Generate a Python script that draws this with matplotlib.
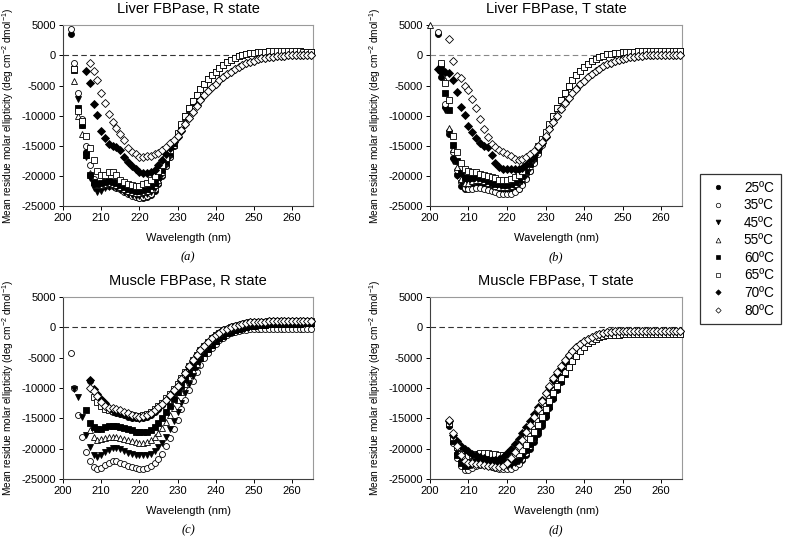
import numpy as np
import matplotlib
matplotlib.use('Agg')
import matplotlib.pyplot as plt
from matplotlib.lines import Line2D

plt.rcParams['font.family'] = ['Liberation Sans', 'DejaVu Sans']
plt.rcParams['mathtext.default'] = 'regular'
plt.rcParams['axes.unicode_minus'] = False

# wavelength (nm): heads cover 200-235, tails 236-265
wl = np.arange(200, 266)
N = None
# ellipticity, in units of 100 deg cm2 dmol-1

# --- Liver FBPase, R state ---
a25 = [N, N, 35, -23, -90, -115, -160, -198, -212, -218, -217, -215, -214, -215, -217, -220, -224, -228,
       -232, -235, -237, -237, -235, -231, -224, -214, -200, -184, -168, -150, -133, -117, -103, -90, -78, -66]
a35 = [N, N, 44, -12, -63, -105, -150, -182, -205, -215, -218, -217, -216, -217, -219, -222, -226, -230,
       -233, -235, -236, -235, -233, -229, -222, -212, -199, -184, -168, -151, -134, -118, -104, -91, -79, -67]
a45 = [N, N, N, -23, -73, -115, -168, -203, -220, -226, -224, -220, -218, -218, -220, -223, -227, -230,
       -232, -233, -233, -232, -230, -226, -220, -210, -197, -182, -166, -149, -132, -116, -102, -89, -77, -65]
a55 = [N, N, N, -42, -100, -130, -165, -195, -210, -215, -215, -213, -212, -213, -215, -218, -221, -224,
       -226, -228, -228, -227, -225, -221, -215, -206, -194, -179, -164, -148, -131, -116, -102, -89, -77, -65]
a60 = [N, N, N, -25, -88, -115, -165, -198, -210, -213, -212, -210, -209, -210, -212, -215, -218, -221,
       -223, -224, -224, -223, -221, -217, -211, -202, -190, -176, -161, -146, -130, -115, -101, -88, -76, -65]
a65 = [N, N, N, -22, -92, -108, -133, -153, -173, -192, -199, -199, -193, -194, -199, -206, -210, -213,
       -215, -216, -216, -214, -211, -206, -200, -192, -182, -170, -157, -143, -129, -114, -100, -88, -76, -65]
a70 = [N, N, N, N, N, N, -26, -46, -80, -99, -125, -137, -147, -150, -152, -157, -168, -177,
       -184, -189, -193, -195, -195, -194, -190, -181, -173, -164, -153, -143, -135, -125, -114, -103, -93, -83]
a80 = [N, N, N, N, N, N, N, -13, -26, -40, -62, -79, -97, -110, -121, -131, -141, -153,
       -160, -164, -168, -168, -167, -166, -164, -161, -157, -152, -146, -140, -134, -124, -113, -103, -93, -84]
a_tail_hi = [-56, -47, -39, -33, -27, -21, -16, -11, -7, -4, -1, 1, 2.5, 3.8, 4.8,
             5.5, 6, 6.4, 6.7, 6.9, 7, 7, 7, 7, 6.9, 6.8, 6.6, 6.4, 6.2, 6]
a_tail_lo = [-74, -66, -59, -53, -47, -41, -36, -31, -27, -23, -19, -16, -13, -10.5, -8.5,
             -6.5, -5, -3.8, -2.8, -2, -1.3, -0.7, -0.2, 0.2, 0.5, 0.8, 1, 1.2, 1.3, 1.4]

# --- Liver FBPase, T state ---
b25 = [N, N, 35, -36, -85, -130, -170, -198, -216, -222, -221, -218, -216, -216, -218, -220, -223, -225,
       -227, -228, -228, -227, -225, -221, -214, -204, -191, -177, -162, -147, -132, -116, -102, -89, -74, -62]
b35 = [N, N, 38, -14, -80, -125, -160, -190, -210, -219, -222, -221, -219, -219, -221, -223, -225, -227,
       -229, -230, -230, -229, -226, -222, -215, -205, -192, -178, -163, -148, -133, -117, -103, -90, -76, -63]
b45 = [N, N, N, -18, -90, -128, -175, -200, -212, -215, -213, -210, -208, -208, -210, -213, -216, -218,
       -220, -221, -221, -220, -217, -213, -207, -198, -186, -173, -159, -145, -131, -116, -102, -89, -74, -62]
b55 = [50, N, N, -12, -40, -120, -155, -185, -205, -212, -211, -208, -206, -206, -208, -211, -214, -216,
       -218, -218, -218, -216, -213, -209, -203, -194, -183, -170, -157, -143, -130, -115, -101, -88, -74, -62]
b60 = [N, N, N, -20, -62, -91, -148, -175, -195, -203, -204, -203, -202, -203, -205, -208, -211, -213,
       -214, -215, -215, -213, -210, -206, -200, -191, -180, -168, -155, -141, -129, -115, -101, -88, -74, -62]
b65 = [N, N, N, -13, -46, -74, -133, -160, -178, -188, -192, -193, -194, -196, -198, -200, -202, -204,
       -206, -207, -207, -205, -202, -198, -192, -184, -174, -163, -151, -138, -127, -114, -100, -87, -74, -62]
b70 = [N, N, -23, -27, -27, -29, -41, -61, -85, -98, -117, -127, -137, -145, -150, -152, -165, -178,
       -185, -188, -189, -189, -189, -188, -187, -182, -173, -165, -155, -145, -135, -122, -111, -100, -89, -79]
b80 = [N, N, N, N, N, 27, -9, -34, -37, -50, -58, -73, -87, -105, -122, -135, -147, -152,
       -156, -160, -163, -167, -171, -173, -172, -168, -164, -158, -150, -143, -133, -122, -111, -100, -89, -79]
b_tail_hi = [-50, -41, -33, -26, -20, -15, -10, -6, -3, -0.5, 1.5, 3, 4, 4.8, 5.4,
             5.8, 6.1, 6.4, 6.6, 6.8, 6.9, 7, 7, 7, 7, 6.9, 6.8, 6.7, 6.6, 6.5]
b_tail_lo = [-70, -62, -55, -48, -42, -36, -31, -26, -22, -18, -15, -12, -9.5, -7.5, -5.8,
             -4.3, -3, -2, -1.2, -0.5, 0, 0.4, 0.7, 0.9, 1, 1.1, 1.1, 1.1, 1.1, 1.1]

# --- Muscle FBPase, R state ---
c25 = [N, N, N, N, N, N, N, -89, -104, -112, -119, -127, -135, -139, -141, -143, -145, -147,
       -149, -150, -150, -149, -147, -144, -139, -134, -128, -121, -114, -106, -98, -87, -76, -65, -55, -46]
c35 = [N, N, -42, -100, -145, -180, -205, -221, -231, -234, -232, -227, -223, -221, -221, -223, -226, -229,
       -231, -232, -233, -233, -232, -229, -223, -217, -208, -196, -182, -167, -152, -135, -119, -103, -88, -74]
c45 = [N, N, N, -102, -115, -147, -178, -198, -210, -213, -211, -206, -202, -199, -199, -201, -204, -207,
       -209, -210, -211, -211, -210, -208, -204, -198, -190, -180, -168, -154, -139, -124, -109, -94, -80, -66]
c55 = [N, N, N, N, N, N, N, -170, -180, -185, -184, -182, -180, -180, -181, -182, -184, -186,
       -188, -189, -190, -190, -189, -186, -181, -174, -166, -156, -145, -133, -120, -107, -94, -82, -71, -60]
c60 = [N, N, N, N, N, N, -137, -158, -165, -168, -167, -165, -163, -162, -163, -164, -166, -168,
       -170, -172, -173, -173, -172, -169, -164, -157, -149, -139, -129, -118, -107, -96, -85, -75, -65, -56]
c65 = [N, N, N, N, N, N, N, N, -115, -123, -129, -134, -137, -138, -138, -139, -141, -143,
       -145, -146, -146, -145, -143, -140, -135, -130, -124, -117, -110, -102, -94, -84, -74, -64, -54, -45]
c70 = [N, N, N, N, N, N, N, -87, -102, -110, -118, -125, -133, -137, -139, -141, -143, -145,
       -147, -148, -149, -148, -146, -143, -138, -133, -127, -120, -113, -105, -97, -87, -76, -65, -55, -46]
c80 = [N, N, N, N, N, N, N, -100, -105, -113, -123, -130, -133, -133, -134, -136, -139, -142,
       -145, -146, -147, -146, -144, -141, -137, -132, -126, -119, -112, -104, -96, -86, -75, -64, -54, -45]
c_tail_hi = [-38, -30, -24, -18, -13, -9, -5, -2, 0.5, 2.5, 4.5, 6, 7, 8, 8.5,
             9, 9.3, 9.5, 9.7, 9.8, 9.9, 10, 10, 10, 10, 10, 10, 10, 10, 10]
c_tail_mid = [-50, -42, -35, -29, -23, -18, -14, -10, -7, -4.5, -2.5, -0.8, 0.5, 1.5, 2.5,
              3.2, 3.8, 4.3, 4.7, 5, 5.3, 5.5, 5.7, 5.9, 6, 6.1, 6.2, 6.3, 6.4, 6.5]
c_tail_lo = [-62, -51, -42, -34, -27, -21, -17, -13, -10, -8, -6, -5, -4, -3.5, -3,
             -2.8, -2.6, -2.5, -2.4, -2.3, -2.2, -2.1, -2, -2, -2, -2, -2, -2, -2, -2]

# --- Muscle FBPase, T state ---
d25 = [N, N, N, N, N, -162, -188, -208, -218, -224, -225, -224, -223, -223, -224, -225, -227, -229,
       -230, -231, -231, -230, -228, -224, -218, -210, -200, -189, -176, -162, -148, -133, -118, -104, -90, -77]
d35 = [N, N, N, N, N, -155, -190, -215, -228, -235, -235, -232, -229, -227, -227, -228, -230, -232,
       -233, -234, -234, -233, -230, -225, -217, -207, -195, -182, -168, -153, -139, -124, -110, -97, -84, -72]
d45 = [N, N, N, N, N, -160, -185, -205, -218, -226, -228, -227, -225, -224, -224, -225, -226, -227,
       -228, -228, -228, -227, -224, -220, -213, -204, -193, -181, -168, -154, -140, -126, -112, -99, -86, -74]
d55 = [N, N, N, N, N, -155, -175, -195, -208, -215, -218, -219, -219, -219, -220, -221, -222, -223,
       -223, -222, -219, -214, -208, -200, -191, -181, -170, -158, -145, -132, -119, -106, -94, -83, -72, -62]
d60 = [N, N, N, N, N, -160, -188, -210, -223, -228, -227, -223, -220, -219, -219, -220, -221, -222,
       -223, -223, -223, -222, -220, -216, -210, -202, -192, -181, -169, -156, -143, -129, -115, -102, -89, -77]
d65 = [N, N, N, N, N, -158, -180, -198, -208, -212, -212, -210, -208, -207, -207, -207, -208, -209,
       -210, -211, -212, -212, -211, -208, -202, -194, -184, -173, -161, -148, -135, -122, -109, -96, -84, -73]
d70 = [N, N, N, N, N, -155, -178, -188, -195, -200, -204, -208, -211, -214, -216, -218, -219, -219,
       -217, -213, -207, -200, -192, -184, -175, -165, -154, -143, -132, -120, -109, -98, -87, -77, -67, -58]
d80 = [N, N, N, N, N, -153, -175, -195, -210, -220, -223, -224, -225, -226, -227, -228, -229, -230,
       -230, -228, -223, -215, -206, -196, -185, -173, -161, -148, -135, -121, -108, -96, -84, -73, -63, -54]
d_tail_early = [-46, -39, -33, -28, -23, -19, -16, -13, -11, -9, -8, -7, -6.5, -6, -5.8,
                -5.6, -5.5, -5.5, -5.5, -5.5, -5.5, -5.5, -5.5, -5.5, -5.5, -5.5, -5.5, -5.5, -5.5, -5.5]
d_tail_late = [-66, -56, -47, -39, -32, -26, -22, -19, -16, -14, -13, -12.5, -12, -12, -11.8,
               -11.5, -11.5, -11.5, -11.5, -11.5, -11.5, -11.5, -11.5, -11.5, -11.5, -11.5, -11.5, -11.5, -11.5, -11.5]

temps = ['25ºC', '35ºC', '45ºC', '55ºC', '60ºC', '65ºC', '70ºC', '80ºC']
markers = ['o', 'o', 'v', '^', 's', 's', 'D', 'D']
filled = [True, False, True, False, True, False, True, False]
msize = [4.3, 4.3, 4.6, 4.6, 3.9, 3.9, 3.6, 3.6]

panels = [
    ('Liver FBPase, R state', '(a)', [0.0802, 0.616, 0.318, 0.337], '#333333',
     [a25 + a_tail_hi, a35 + a_tail_hi, a45 + a_tail_hi, a55 + a_tail_hi,
      a60 + a_tail_hi, a65 + a_tail_hi, a70 + a_tail_lo, a80 + a_tail_lo]),
    ('Liver FBPase, T state', '(b)', [0.547, 0.616, 0.321, 0.337], '#888888',
     [b25 + b_tail_hi, b35 + b_tail_hi, b45 + b_tail_hi, b55 + b_tail_hi,
      b60 + b_tail_hi, b65 + b_tail_hi, b70 + b_tail_lo, b80 + b_tail_lo]),
    ('Muscle FBPase, R state', '(c)', [0.0802, 0.108, 0.318, 0.339], '#333333',
     [c25 + c_tail_hi, c35 + c_tail_lo, c45 + c_tail_mid, c55 + c_tail_mid,
      c60 + c_tail_mid, c65 + c_tail_hi, c70 + c_tail_hi, c80 + c_tail_hi]),
    ('Muscle FBPase, T state', '(d)', [0.547, 0.108, 0.321, 0.339], '#333333',
     [d25 + d_tail_late, d35 + d_tail_late, d45 + d_tail_late, d55 + d_tail_early,
      d60 + d_tail_late, d65 + d_tail_late, d70 + d_tail_early, d80 + d_tail_early]),
]

fig = plt.figure(figsize=(7.86, 5.37), dpi=100)

for title, letter, pos, zcol, series in panels:
    ax = fig.add_axes(pos)
    ax.axhline(0, color=zcol, lw=0.8, ls=(0, (5, 3)), zorder=1)
    for i, vals in enumerate(series):
        y = np.array(vals, dtype=float) * 100
        ax.plot(wl, y, ls='none', marker=markers[i], ms=msize[i], mew=0.6,
                mec='black', mfc='black' if filled[i] else 'white',
                zorder=2 + i, clip_on=False)
    ax.set_xlim(200, 265.5)
    ax.set_ylim(-25000, 5000)
    ax.set_xticks(range(200, 261, 10))
    ax.set_yticks(range(-25000, 5001, 5000))
    ax.tick_params(labelsize=8, length=3, width=0.7, direction='out', pad=2)
    for side in ['top', 'right']:
        ax.spines[side].set_color('#9a9a9a')
    for side in ['left', 'bottom']:
        ax.spines[side].set_color('#404040')
    for sp in ax.spines.values():
        sp.set_linewidth(0.8)
    ax.text(0.5, 1.09, title, transform=ax.transAxes, ha='center', va='center', fontsize=10.5)
    ax.set_xlabel('Wavelength (nm)', fontsize=8)
    ax.xaxis.set_label_coords(0.5, -0.148)
    ax.set_ylabel('Mean residue molar ellipticity (deg cm$^{-2}$ dmol$^{-1}$)', fontsize=7.3)
    ax.yaxis.set_label_coords(-0.188, 0.5)
    ax.text(0.5, -0.28, letter, transform=ax.transAxes, ha='center', va='center',
            fontsize=9, family='Liberation Serif', style='italic')

handles = [Line2D([], [], ls='none', marker=markers[i], ms=msize[i] * 0.75, mew=0.5,
                  mec='black', mfc='black' if filled[i] else 'white') for i in range(8)]
leg = fig.legend(handles, temps, loc='upper left', bbox_to_anchor=(0.891, 0.676),
                 fontsize=9.8, frameon=True, fancybox=False, edgecolor='black',
                 handlelength=1.6, handletextpad=1.1, labelspacing=0.26,
                 borderpad=0.5, borderaxespad=0)
leg.get_frame().set_linewidth(0.9)

fig.savefig('out.png', dpi=100)
